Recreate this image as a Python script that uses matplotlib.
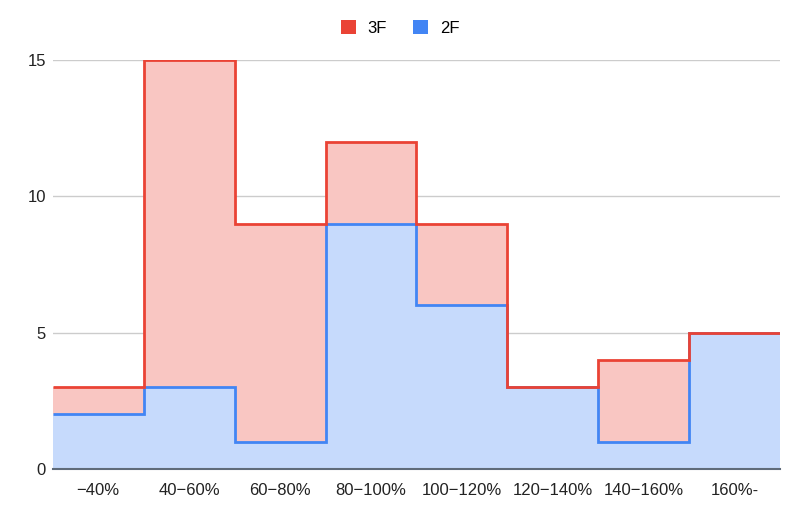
import matplotlib
matplotlib.use("Agg")
import matplotlib.pyplot as plt
from matplotlib.patches import Patch
import numpy as np

categories = ["\u221240%", "40\u221260%", "60\u221280%", "80\u2212100%", "100\u2212120%",
              "120\u2212140%", "140\u2212160%", "160%-"]
values_3f = [3, 15, 9, 12, 9, 3, 4, 5]
values_2f = [2, 3, 1, 9, 6, 3, 1, 5]

plt.rcParams['font.family'] = ['Liberation Sans', 'DejaVu Sans']

red = "#ea4335"
blue = "#4285f4"
red_fill = "#f9c6c2"
blue_fill = "#c6dafc"

fig = plt.figure(figsize=(8.0, 5.09), dpi=100)
ax = fig.add_axes([0.066, 0.0786, 0.909, 0.8034])

edges = np.arange(len(categories) + 1)
ax.stairs(values_3f, edges, fill=True, color=red_fill, zorder=1, baseline=0)
ax.stairs(values_2f, edges, fill=True, color=blue_fill, zorder=2, baseline=0)
ax.stairs(values_2f, edges, baseline=None, color=blue, lw=2, zorder=3)
ax.stairs(values_3f, edges, baseline=None, color=red, lw=2, zorder=4)

ax.set_xlim(0, len(categories))
ax.set_ylim(0, 15)
ax.set_yticks([0, 5, 10, 15])
ax.set_xticks(np.arange(len(categories)) + 0.5)
ax.set_xticklabels(categories)
ax.grid(axis='y', color='#cccccc', lw=1, zorder=0)
ax.set_axisbelow(True)
for s in ['top', 'right', 'left']:
    ax.spines[s].set_visible(False)
ax.spines['bottom'].set_color('#5f6b7a')
ax.spines['bottom'].set_linewidth(1.5)
ax.spines['bottom'].set_zorder(5)
ax.tick_params(axis='both', length=0, labelsize=12, colors='#222222')
ax.tick_params(axis='y', pad=5)
ax.tick_params(axis='x', pad=10)

handles = [Patch(facecolor=red, edgecolor='none', label='3F'),
           Patch(facecolor=blue, edgecolor='none', label='2F')]
fig.legend(handles=handles, loc='upper center', bbox_to_anchor=(0.5, 0.99), ncol=2,
           frameon=False, fontsize=12, handlelength=0.9, handleheight=0.9,
           handletextpad=0.7, columnspacing=1.6)

fig.savefig("out.png", dpi=100)
